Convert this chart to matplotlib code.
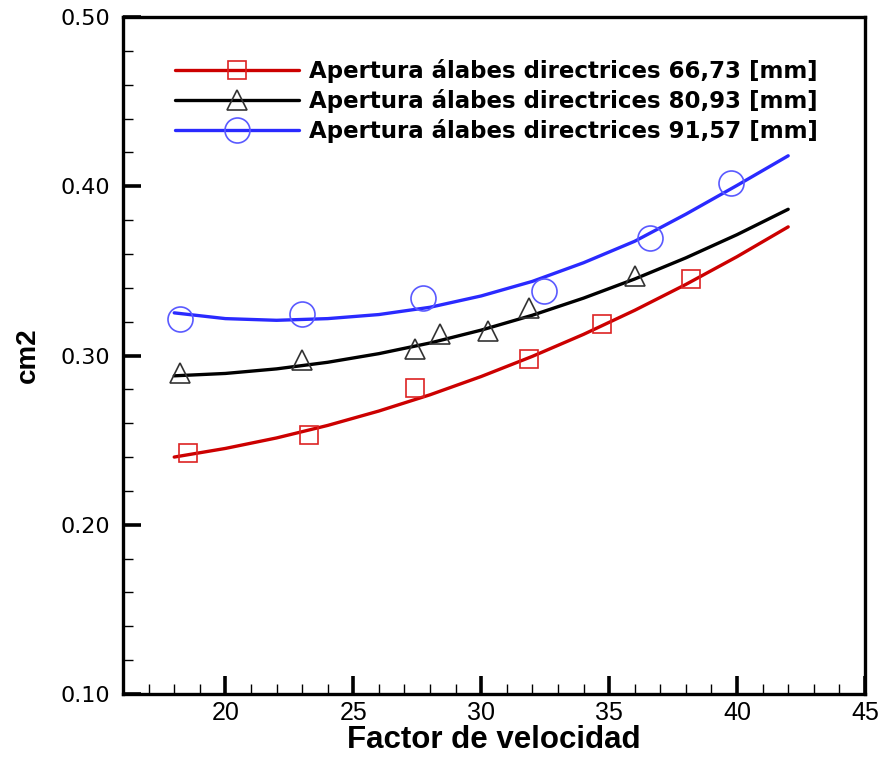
import matplotlib
matplotlib.use("Agg")
import matplotlib.pyplot as plt
from matplotlib.ticker import MultipleLocator, FormatStrFormatter
from matplotlib.legend_handler import HandlerTuple

# Puntos medidos (factor de velocidad, cm2)
fv_66 = [18.53, 23.27, 27.43, 31.87, 34.74, 38.21]
cm2_66 = [0.2422, 0.2531, 0.2811, 0.2980, 0.3187, 0.3452]
fv_80 = [18.23, 23.01, 27.43, 28.38, 30.27, 31.86, 36.01]
cm2_80 = [0.2894, 0.2975, 0.3040, 0.3128, 0.3143, 0.3282, 0.3467]
fv_91 = [18.23, 22.99, 27.73, 32.46, 36.61, 39.78]
cm2_91 = [0.3216, 0.3248, 0.3340, 0.3384, 0.3697, 0.4022]

# Curvas de ajuste
fv_curva = [18, 20, 22, 24, 26, 28, 30, 32, 34, 36, 38, 40, 42]
curva_66 = [0.2400, 0.2451, 0.2513, 0.2587, 0.2672, 0.2768, 0.2876,
            0.2995, 0.3125, 0.3267, 0.3420, 0.3584, 0.3760]
curva_80 = [0.2880, 0.2894, 0.2921, 0.2960, 0.3011, 0.3074, 0.3150,
            0.3238, 0.3339, 0.3452, 0.3577, 0.3714, 0.3864]
curva_91 = [0.3252, 0.3218, 0.3208, 0.3218, 0.3242, 0.3285, 0.3352,
            0.3438, 0.3548, 0.3675, 0.3835, 0.4005, 0.4180]

etiquetas = ["Apertura álabes directrices 66,73 [mm]",
             "Apertura álabes directrices 80,93 [mm]",
             "Apertura álabes directrices 91,57 [mm]"]

fig = plt.figure(figsize=(8.79, 7.62), dpi=100)
ax = fig.add_axes([0.140, 0.0892, 0.844, 0.8885])

series = [
    (fv_66, cm2_66, curva_66, "#cc0000", "#dd2222", "s", 12.5),
    (fv_80, cm2_80, curva_80, "#000000", "#333333", "^", 15),
    (fv_91, cm2_91, curva_91, "#2a2aff", "#5a5aff", "o", 18),
]
handles = []
for fv, cm2, curva, c_linea, c_marca, marca, ms in series:
    linea, = ax.plot(fv_curva, curva, color=c_linea, lw=2.4,
                     solid_capstyle="round", solid_joinstyle="round")
    puntos, = ax.plot(fv, cm2, linestyle="none", marker=marca, ms=ms,
                      mfc="none", mec=c_marca, mew=1.2)
    handles.append((linea, puntos))

ax.set_xlim(16, 45)
ax.set_ylim(0.10, 0.50)
ax.xaxis.set_major_locator(MultipleLocator(5))
ax.xaxis.set_minor_locator(MultipleLocator(1))
ax.yaxis.set_major_locator(MultipleLocator(0.10))
ax.yaxis.set_minor_locator(MultipleLocator(0.02))
ax.yaxis.set_major_formatter(FormatStrFormatter("%.2f"))

ax.tick_params(which="both", direction="in", top=False, right=False)
ax.tick_params(which="major", length=13, width=2.6)
ax.tick_params(which="minor", length=7, width=1.0)
ax.tick_params(axis="x", which="major", pad=5, labelsize=18)
ax.tick_params(axis="y", which="major", pad=9, labelsize=16)
for lab in ax.get_xticklabels():
    lab.set_fontfamily("Liberation Sans")
for lab in ax.get_yticklabels():
    lab.set_fontfamily("DejaVu Sans")
for sp in ax.spines.values():
    sp.set_linewidth(2.4)

ax.set_xlabel("Factor de velocidad", fontsize=22.5, fontweight="bold",
              family="Liberation Sans", labelpad=0)
ax.set_ylabel("cm2", fontsize=20, fontweight="bold",
              family="Liberation Sans", labelpad=14)

ax.legend(handles, etiquetas, handler_map={tuple: HandlerTuple(ndivide=1)},
          loc="upper left", bbox_to_anchor=(0.199, 0.922),
          bbox_transform=fig.transFigure, frameon=False, borderpad=0,
          borderaxespad=0, numpoints=1, handlelength=5.4, handletextpad=0.45,
          labelspacing=0.25,
          prop={"family": "DejaVu Sans", "weight": "bold", "size": 16.5})

fig.savefig("out.png", dpi=100)
